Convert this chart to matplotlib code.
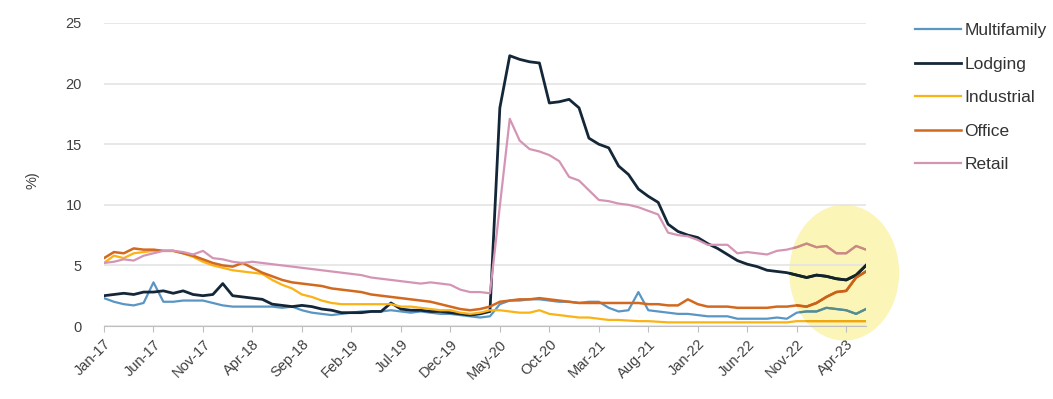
import matplotlib
matplotlib.use("Agg")
import matplotlib.pyplot as plt
from matplotlib.patches import Ellipse
from matplotlib.colors import to_rgb
import numpy as np
import pandas as pd

plt.rcParams['font.family'] = ['Liberation Sans', 'DejaVu Sans']

# Monthly delinquency rates (%), Jan-2017 .. Jun-2023
months = pd.date_range("2017-01-01", "2023-06-01", freq="MS")

multifamily = [2.3, 2.0, 1.8, 1.7, 1.9, 3.6, 2.0, 2.0, 2.1, 2.1, 2.1, 1.9, 1.7, 1.6, 1.6, 1.6,
               1.6, 1.6, 1.5, 1.6, 1.3, 1.1, 1.0, 0.9, 1.0, 1.1, 1.2, 1.2, 1.2, 1.3, 1.2, 1.1,
               1.2, 1.1, 1.0, 1.0, 0.9, 0.8, 0.7, 0.8, 1.8, 2.1, 2.1, 2.2, 2.2, 2.1, 2.0, 2.0,
               1.9, 2.0, 2.0, 1.5, 1.2, 1.3, 2.8, 1.3, 1.2, 1.1, 1.0, 1.0, 0.9, 0.8, 0.8, 0.8,
               0.6, 0.6, 0.6, 0.6, 0.7, 0.6, 1.1, 1.2, 1.2, 1.5, 1.4, 1.3, 1.0, 1.4]

lodging = [2.5, 2.6, 2.7, 2.6, 2.8, 2.8, 2.9, 2.7, 2.9, 2.6, 2.5, 2.6, 3.5, 2.5, 2.4, 2.3,
           2.2, 1.8, 1.7, 1.6, 1.7, 1.6, 1.4, 1.3, 1.1, 1.1, 1.1, 1.2, 1.2, 1.9, 1.4, 1.3,
           1.3, 1.2, 1.2, 1.1, 1.0, 0.9, 1.0, 1.2, 18.0, 22.3, 22.0, 21.8, 21.7, 18.4, 18.5, 18.7,
           18.0, 15.5, 15.0, 14.7, 13.2, 12.5, 11.3, 10.7, 10.2, 8.4, 7.8, 7.5, 7.3, 6.8, 6.4, 5.9,
           5.4, 5.1, 4.9, 4.6, 4.5, 4.4, 4.2, 4.0, 4.2, 4.1, 3.9, 3.8, 4.2, 5.0]

industrial = [5.2, 5.8, 5.6, 6.0, 6.1, 6.2, 6.2, 6.2, 6.0, 5.7, 5.3, 5.0, 4.8, 4.6, 4.5, 4.4,
              4.3, 3.8, 3.4, 3.1, 2.6, 2.4, 2.1, 1.9, 1.8, 1.8, 1.8, 1.8, 1.8, 1.8, 1.6, 1.6,
              1.5, 1.4, 1.3, 1.3, 1.1, 1.0, 1.1, 1.3, 1.3, 1.2, 1.1, 1.1, 1.3, 1.0, 0.9, 0.8,
              0.7, 0.7, 0.6, 0.5, 0.5, 0.45, 0.4, 0.4, 0.35, 0.3, 0.3, 0.3, 0.3, 0.3, 0.3, 0.3,
              0.3, 0.3, 0.3, 0.3, 0.3, 0.3, 0.4, 0.4, 0.4, 0.4, 0.4, 0.4, 0.4, 0.4]

office = [5.6, 6.1, 6.0, 6.4, 6.3, 6.3, 6.2, 6.2, 6.0, 5.8, 5.5, 5.2, 5.0, 4.9, 5.2, 4.8,
          4.4, 4.1, 3.8, 3.6, 3.5, 3.4, 3.3, 3.1, 3.0, 2.9, 2.8, 2.6, 2.5, 2.4, 2.3, 2.2,
          2.1, 2.0, 1.8, 1.6, 1.4, 1.3, 1.4, 1.6, 2.0, 2.1, 2.2, 2.2, 2.3, 2.2, 2.1, 2.0,
          1.9, 1.9, 1.9, 1.9, 1.9, 1.9, 1.9, 1.8, 1.8, 1.7, 1.7, 2.2, 1.8, 1.6, 1.6, 1.6,
          1.5, 1.5, 1.5, 1.5, 1.6, 1.6, 1.7, 1.6, 1.9, 2.4, 2.8, 2.9, 4.0, 4.5]

retail = [5.2, 5.3, 5.5, 5.4, 5.8, 6.0, 6.2, 6.2, 6.1, 5.9, 6.2, 5.6, 5.5, 5.3, 5.2, 5.3,
          5.2, 5.1, 5.0, 4.9, 4.8, 4.7, 4.6, 4.5, 4.4, 4.3, 4.2, 4.0, 3.9, 3.8, 3.7, 3.6,
          3.5, 3.6, 3.5, 3.4, 3.0, 2.8, 2.8, 2.7, 9.9, 17.1, 15.3, 14.6, 14.4, 14.1, 13.6, 12.3,
          12.0, 11.2, 10.4, 10.3, 10.1, 10.0, 9.8, 9.5, 9.2, 7.7, 7.5, 7.4, 7.1, 6.7, 6.7, 6.7,
          6.0, 6.1, 6.0, 5.9, 6.2, 6.3, 6.5, 6.8, 6.5, 6.6, 6.0, 6.0, 6.6, 6.3]

series = [
    ("Multifamily", multifamily, "#5a96c4", 1.6),
    ("Lodging", lodging, "#142739", 2.0),
    ("Industrial", industrial, "#fbb215", 1.6),
    ("Office", office, "#d2691f", 1.8),
    ("Retail", retail, "#d495b4", 1.6),
]

x = np.arange(len(months))
tick_idx = x[::5]
tick_labels = [m.strftime("%b-%y") for m in months[::5]]

fig = plt.figure(figsize=(10.53, 3.99), dpi=100)
ax = fig.add_axes([104 / 1053, 1 - 326 / 399, (866 - 104) / 1053, (326 - 23) / 399])

# Highlight of the most recent months, tinting the lines it covers
hl_color = np.array(to_rgb("#fbf5b8"))
highlight = Ellipse((74.8, 4.4), width=11.1, height=11.2, facecolor=hl_color,
                    edgecolor="none", clip_on=False, zorder=0.3)
ax.add_patch(highlight)

for name, vals, color, lw in series:
    ax.plot(x, vals, color=color, lw=lw, label=name, solid_joinstyle="round", zorder=2)
    tinted, = ax.plot(x, vals, color=tuple(np.array(to_rgb(color)) * hl_color * 0.97),
                      lw=lw, solid_joinstyle="round", zorder=2.5)
    tinted.set_clip_path(highlight)

ax.set_xlim(0, len(months) - 1)
ax.set_ylim(0, 25)
ax.set_yticks([0, 5, 10, 15, 20, 25])
ax.yaxis.grid(True, color="#e4e4e4", lw=1.2)
ax.set_axisbelow(True)

ax.set_xticks(tick_idx)
ax.set_xticklabels(tick_labels, rotation=45, ha="right", rotation_mode="anchor")
ax.tick_params(axis="x", direction="out", length=4, color="#bfbfbf", pad=4,
               labelsize=10.5, labelcolor="#404040")
ax.tick_params(axis="y", length=0, pad=16, labelsize=10.5, labelcolor="#404040")

for side in ("top", "right", "left"):
    ax.spines[side].set_visible(False)
ax.spines["bottom"].set_color("#bfbfbf")

fig.text(32 / 1053, 1 - 180 / 399, "%)", rotation=90, ha="center", va="center",
         fontsize=10.5, color="#404040")

fig.legend(loc="upper left", bbox_to_anchor=(915 / 1053, 1 - 23 / 399), frameon=False,
           fontsize=12.5, handlelength=2.65, handletextpad=0.2, labelspacing=1.06,
           borderpad=0, borderaxespad=0, labelcolor="#333333")

fig.savefig("out.png", dpi=100, facecolor="white")
